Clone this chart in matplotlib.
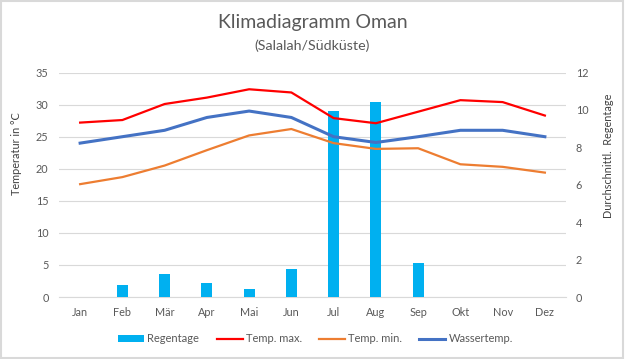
import matplotlib
matplotlib.use('Agg')
import matplotlib.pyplot as plt
from matplotlib.patches import Rectangle

plt.rcParams['font.family'] = ['Lato', 'DejaVu Sans']

# Daten
monate = ['Jan', 'Feb', 'Mär', 'Apr', 'Mai', 'Jun', 'Jul', 'Aug', 'Sep', 'Okt', 'Nov', 'Dez']
regentage = [0, 0.62, 1.21, 0.73, 0.41, 1.51, 9.97, 10.45, 1.8, 0, 0, 0]
temp_max = [27.2, 27.6, 30.1, 31.1, 32.4, 31.9, 27.9, 27.1, 28.9, 30.7, 30.4, 28.3]
temp_min = [17.6, 18.7, 20.5, 22.9, 25.2, 26.2, 24.0, 23.1, 23.2, 20.7, 20.3, 19.4]
wassertemp = [24.0, 25.0, 26.0, 28.0, 29.0, 28.0, 25.0, 24.1, 25.0, 26.0, 26.0, 25.0]

grau = '#595959'
gitter = '#d9d9d9'

fig = plt.figure(figsize=(6.25, 3.59), dpi=100)
x = range(len(monate))

# Achse fuer Gitter und linke Beschriftung
ax = fig.add_axes([0.0944, 0.1727, 0.8112, 0.6251])
ax.set_xlim(-0.5, 11.5)
ax.set_ylim(0, 35)
ax.set_yticks(range(0, 36, 5))
ax.grid(axis='y', color=gitter, lw=0.8)
ax.set_axisbelow(True)
ax.set_xticks(list(x))
ax.set_xticklabels(monate)
for s in ['top', 'right', 'left']:
    ax.spines[s].set_visible(False)
ax.spines['bottom'].set_color(gitter)
ax.tick_params(axis='both', length=0, labelsize=7.8, labelcolor=grau)
ax.tick_params(axis='y', pad=7.5)
ax.tick_params(axis='x', pad=7)
ax.set_ylabel('Temperatur in °C', fontsize=7.8, color='#404040')
ax.yaxis.set_label_coords(-0.073, 0.64)

# Regentage auf rechter Achse
ax2 = ax.twinx()
ax2.set_ylim(0, 12)
ax2.set_yticks(range(0, 13, 2))
balken = ax2.bar(x, regentage, width=0.26, color='#00B0F0', label='Regentage')
for s in ax2.spines.values():
    s.set_visible(False)
ax2.tick_params(axis='y', length=0, labelsize=7.8, labelcolor=grau, pad=7)
ax2.set_ylabel('Durchschnittl.  Regentage', fontsize=7.8, color='#404040')
ax2.yaxis.set_label_coords(1.073, 0.63)

# Temperaturlinien oben drauf
ax3 = ax.twinx()
ax3.set_ylim(0, 35)
ax3.set_yticks([])
for s in ax3.spines.values():
    s.set_visible(False)
l1, = ax3.plot(x, temp_max, color='#FF0000', lw=1.6, label='Temp. max.')
l2, = ax3.plot(x, temp_min, color='#ED7D31', lw=1.6, label='Temp. min.')
l3, = ax3.plot(x, wassertemp, color='#4472C4', lw=2.2, label='Wassertemp.')

fig.text(0.5, 0.936, 'Klimadiagramm Oman', ha='center', va='center', fontsize=14, color=grau)
fig.text(0.5, 0.873, '(Salalah/Südküste)', ha='center', va='center', fontsize=10.3, color=grau)

fig.legend([balken, l1, l2, l3], ['Regentage', 'Temp. max.', 'Temp. min.', 'Wassertemp.'],
           loc='center', bbox_to_anchor=(0.505, 0.056), ncol=4, frameon=False,
           fontsize=8, labelcolor=grau, handlelength=2.35, handleheight=0.55,
           handletextpad=0.27, columnspacing=1.55)

fig.patches.append(Rectangle((0.002, 0.003), 0.995, 0.994, transform=fig.transFigure,
                             fill=False, edgecolor=gitter, lw=1.5))

fig.savefig('out.png', dpi=100)
